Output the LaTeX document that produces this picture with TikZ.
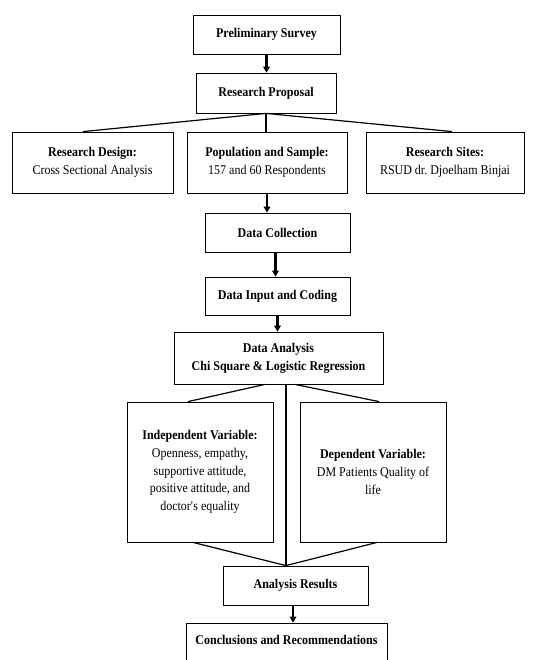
\documentclass[tikz,border=0pt]{standalone}
\usepackage{fontspec}
\setmainfont{Liberation Serif}[FakeStretch=0.9]
\usetikzlibrary{calc,arrows.meta}

\tikzset{
  stage/.style 2 args={draw, line width=0.6pt, align=center, inner sep=0pt,
    minimum width=#1*0.75pt, minimum height=#2*0.75pt,
    font=\fontsize{10}{13.3}\selectfont},
  flow/.style={line width=1.6pt, -{Triangle[length=4.5pt,width=5pt]}},
  trunk/.style={line width=1.6pt},
  branch/.style={line width=0.9pt},
}

\begin{document}
\begin{tikzpicture}[x=0.75pt,y=0.75pt,yscale=-1,xscale=1]
        %set diagram left start at 0, and has height of 660
        \useasboundingbox (0,0) rectangle (536,660);

        % Text Node
        \node (survey) at (266.5,34.5) [stage={147}{39}] {\textbf{Preliminary Survey}};
        % Text Node
        \node (proposal) at (266,93) [stage={140}{40}] {\textbf{Research Proposal}};
        % Text Node
        \node (design) at (92.5,162.5) [stage={161}{61}] {\textbf{Research Design:}\\Cross Sectional Analysis};
        % Text Node
        \node (sample) at (267,162.5) [stage={160}{61}] {\textbf{Population and Sample:}\\157 and 60 Respondents};
        % Text Node
        \node (sites) at (445,162.5) [stage={158}{61}] {\textbf{Research Sites:}\\RSUD dr.\ Djoelham Binjai};
        % Text Node
        \node (collection) at (277.5,232.5) [stage={145}{39}] {\textbf{Data Collection}};
        % Text Node
        \node (coding) at (277.5,296) [stage={145}{38}] {\textbf{Data Input and Coding}};
        % Text Node
        \node (analysis) at (278.5,358) [stage={209}{52}] {\textbf{Data Analysis}\\\textbf{Chi Square \& Logistic Regression}};
        % Text Node
        \node (independent) at (200,472) [stage={146}{140}] {\textbf{Independent Variable:}\\Openness, empathy,\\supportive attitude,\\positive attitude, and\\doctor\textquotesingle s equality};
        % Text Node
        \node (dependent) at (373,472) [stage={146}{140}] {\textbf{Dependent Variable:}\\DM Patients Quality of\\life};
        % Text Node
        \node (results) at (295.5,585.5) [stage={145}{39}] {\textbf{Analysis Results}};
        % Text Node
        \node (conclusions) at (286.5,648.5) [stage={201}{51}] {\textbf{Conclusions and Recommendations}\\\mbox{}};

        \coordinate (merge) at ($(results.north)+(-9.5,0)$);
        \coordinate (drop) at ($(results.south)+(-2.5,0)$);

        %Straight Lines
        \draw [flow] (survey.south) -- (survey.south |- proposal.north);
        %Straight Lines
        \draw [branch] (proposal.south) -- ($(design.north)+(-9.5,0)$);
        \draw [branch] (proposal.south) -- (proposal.south |- sample.north);
        \draw [branch] (proposal.south) -- ($(sites.north)+(7,0)$);
        %Straight Lines
        \draw [flow] (sample.south) -- (sample.south |- collection.north);
        \draw [flow] ($(collection.south)+(-2,0)$) -- ($(coding.north)+(-2,0)$);
        \draw [flow] (coding.south) -- (coding.south |- analysis.north);
        %Straight Lines
        \draw [branch] ($(analysis.south)+(-13.5,0)$) -- ($(independent.north)+(-12,0)$);
        \draw [branch] ($(analysis.south)+(16.5,0)$) -- ($(dependent.north)+(6,0)$);
        \draw [trunk] (merge |- analysis.south) -- (merge);
        \draw [branch] ($(independent.south)+(-7,0)$) -- (merge);
        \draw [branch] ($(dependent.south)+(4,0)$) -- (merge);
        %Straight Lines
        \draw [flow] (drop) -- (drop |- conclusions.north);

\end{tikzpicture}
\end{document}
